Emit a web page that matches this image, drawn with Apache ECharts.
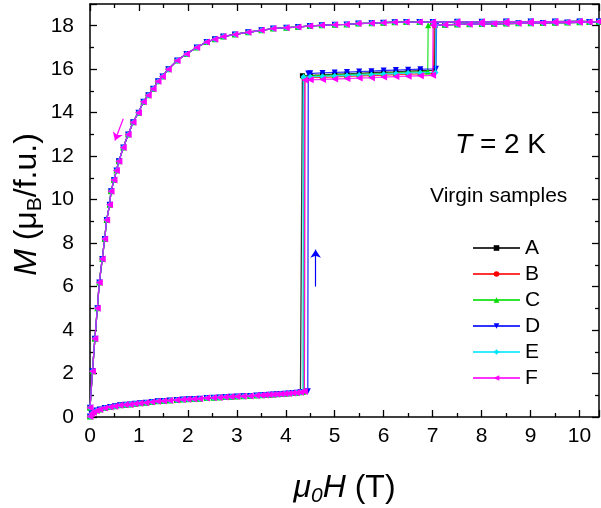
<!DOCTYPE html>
<html><head><meta charset="utf-8">
<script src="https://cdn.jsdelivr.net/npm/echarts@6/dist/echarts.min.js"></script>
<style>html,body{margin:0;padding:0;background:#fff}#c{width:601px;height:508px}</style>
</head><body><div id="c"></div>
<script>
// ---- data ----
const samples = ['A', 'B', 'C', 'D', 'E', 'F'];
const colors = ['#000000', '#ff0000', '#00dd00', '#0000ff', '#00e5ff', '#ff00ff'];
const symbols = ['rect', 'circle', 'triangle', 'triangle', 'diamond', 'triangle'];
const rotations = [0, 0, 0, 180, 0, 90];
const symbolSizes = [5, 5, 6, 6, 6, 7];

// virgin (up-sweep) branch below the first transition, common to all samples
const fieldUp = [0, 0.03, 0.07, 0.13, 0.2, 0.3, 0.41, 0.51, 0.61, 0.72, 0.82, 0.92, 1.02, 1.14, 1.26, 1.38, 1.5, 1.63, 1.77, 1.89, 2.0, 2.12, 2.24, 2.38, 2.52, 2.64, 2.76, 2.88, 3.0, 3.13, 3.27, 3.4, 3.5, 3.58, 3.66, 3.74, 3.82, 3.9, 3.98, 4.06, 4.14, 4.22, 4.3];
const momentUp = [0.02, 0.15, 0.22, 0.3, 0.35, 0.41, 0.46, 0.5, 0.54, 0.56, 0.58, 0.61, 0.63, 0.66, 0.69, 0.72, 0.74, 0.76, 0.78, 0.8, 0.82, 0.83, 0.84, 0.87, 0.89, 0.9, 0.92, 0.93, 0.94, 0.96, 0.97, 0.99, 1.0, 1.01, 1.02, 1.03, 1.05, 1.06, 1.07, 1.08, 1.1, 1.12, 1.14];

// first transition field, moment just before / after
const hc1 = [4.33, 4.38, 4.36, 4.45, 4.35, 4.38];
const mBefore1 = [1.16, 1.16, 1.16, 1.18, 1.16, 1.17];
const mAfter1 = [15.7, 15.6, 15.68, 15.8, 15.64, 15.5];

// intermediate plateau
const plateauField = [4.5, 4.75, 5.0, 5.25, 5.5, 5.75, 6.0, 6.25, 6.5, 6.75];
const plateauA = [15.72, 15.74, 15.77, 15.79, 15.81, 15.84, 15.86, 15.88, 15.91, 15.93];
const plateauB = [15.61, 15.63, 15.65, 15.67, 15.69, 15.71, 15.73, 15.75, 15.77, 15.79];
const plateauC = [15.69, 15.71, 15.73, 15.75, 15.77, 15.79, 15.81, 15.83, 15.86, 15.88];
const plateauD = [15.81, 15.83, 15.85, 15.87, 15.89, 15.91, 15.94, 15.96, 15.98, 16.0];
const plateauE = [15.65, 15.67, 15.69, 15.71, 15.73, 15.75, 15.78, 15.8, 15.82, 15.84];
const plateauF = [15.51, 15.53, 15.55, 15.57, 15.59, 15.61, 15.64, 15.66, 15.68, 15.7];
const plateaus = [plateauA, plateauB, plateauC, plateauD, plateauE, plateauF];

// second transition field, moment just before / after
const hc2 = [7.04, 7.02, 6.9, 7.07, 7.06, 7.0];
const mBefore2 = [15.95, 15.8, 15.9, 16.02, 15.85, 15.72];
const mAfter2 = [18.02, 18.02, 18.02, 18.03, 18.02, 18.02];

// saturated branch on the up-sweep
const fieldHigh = [7.25, 7.5, 7.75, 8.0, 8.25, 8.5, 8.75, 9.0, 9.25, 9.5, 9.75, 10.0, 10.2, 10.4];
const momentHigh = [18.04, 18.06, 18.07, 18.08, 18.09, 18.1, 18.11, 18.12, 18.13, 18.14, 18.15, 18.16, 18.17, 18.18];

// down-sweep branch
const fieldDown = [10.4, 10.0, 9.5, 9.0, 8.5, 8.0, 7.5, 7.0, 6.73, 6.46, 6.22, 5.99, 5.75, 5.48, 5.24, 5.0, 4.73, 4.49, 4.25, 4.01, 3.74, 3.5, 3.23, 2.96, 2.72, 2.55, 2.38, 2.18, 1.97, 1.78, 1.6, 1.48, 1.39, 1.29, 1.19, 1.09, 0.99, 0.88, 0.78, 0.68, 0.59, 0.54, 0.49, 0.43, 0.4, 0.34, 0.3, 0.25, 0.19, 0.15, 0.1, 0.05, 0];
const momentDown = [18.2, 18.2, 18.19, 18.19, 18.19, 18.18, 18.18, 18.17, 18.17, 18.17, 18.16, 18.14, 18.12, 18.1, 18.06, 18.05, 18.02, 17.99, 17.94, 17.91, 17.87, 17.79, 17.7, 17.6, 17.5, 17.38, 17.25, 17.0, 16.7, 16.4, 16.0, 15.67, 15.45, 15.1, 14.8, 14.5, 14.0, 13.56, 13.0, 12.4, 11.77, 11.34, 10.9, 10.38, 9.77, 9.06, 8.19, 7.27, 6.19, 5.0, 3.6, 2.1, 0.43];

const xTicks = [0, 1, 2, 3, 4, 5, 6, 7, 8, 9, 10];
const yTicks = [0, 2, 4, 6, 8, 10, 12, 14, 16, 18];

// arrows (data coordinates): [from, to]
const arrowDown = [[0.68, 13.72], [0.51, 12.72]];
const arrowUp = [[4.61, 6.0], [4.61, 7.7]];

// ---- build ----
const FONT = 'Liberation Sans, Arial, sans-serif';
function zip(a, b) { return a.map((v, i) => [v, b[i]]); }
function buildLoop(i) {
  const d = zip(fieldUp, momentUp);
  d.push([hc1[i], mBefore1[i]]);
  d.push([hc1[i] + 0.01, mAfter1[i]]);
  zip(plateauField, plateaus[i]).forEach(p => { if (p[0] > hc1[i]) d.push(p); });
  d.push([hc2[i], mBefore2[i]]);
  d.push([hc2[i] + 0.01, mAfter2[i]]);
  zip(fieldHigh, momentHigh).forEach(p => d.push(p));
  zip(fieldDown, momentDown).forEach(p => d.push(p));
  return d;
}

const series = samples.map((name, i) => {
  const s = {
    name, type: 'line', data: buildLoop(i),
    symbol: symbols[i], symbolRotate: rotations[i], symbolSize: symbolSizes[i],
    showSymbol: true,
    itemStyle: { color: colors[i] },
    lineStyle: { color: colors[i], width: 1.3, opacity: 0.8 },
    z: 2 + i
  };
  if (name === 'F' || name === 'D') {
    const arr = name === 'F' ? arrowDown : arrowUp;
    s.markLine = {
      silent: true, animation: false,
      symbol: ['none', 'arrow'], symbolSize: 8,
      label: { show: false },
      lineStyle: { color: colors[i], width: 1.2, type: 'solid', opacity: 1 },
      emphasis: { disabled: true },
      data: [[{ coord: arr[0] }, { coord: arr[1] }]]
    };
  }
  return s;
});

const axisCommon = {
  type: 'value',
  axisLine: { show: true, onZero: false, lineStyle: { color: '#000', width: 1.5 } },
  axisTick: { show: true, inside: true, length: 7, lineStyle: { color: '#000', width: 1.3 } },
  minorTick: { show: true, splitNumber: 2, length: 4, lineStyle: { color: '#000', width: 1.3 } },
  splitLine: { show: false }
};

const chart = echarts.init(document.getElementById('c'), null, { renderer: 'canvas' });
chart.setOption({
  animation: false,
  backgroundColor: '#fff',
  grid: { left: 90, right: 2, top: 4, bottom: 91, containLabel: false, outerBoundsMode: 'none' },
  xAxis: [
    Object.assign({}, axisCommon, {
      min: 0, max: 10.4, interval: 1, position: 'bottom',
      axisLabel: { color: '#000', fontSize: 21, fontFamily: FONT, margin: 9,
        formatter: v => xTicks.includes(v) ? String(v) : '' },
      name: '{it|μ}{isub|0}{it|H}{n| (T)}', nameLocation: 'middle', nameGap: 52,
      nameMoveOverlap: false,
      nameTextStyle: {
        color: '#000', fontFamily: FONT,
        rich: {
          it: { fontSize: 32, fontStyle: 'italic', fontFamily: FONT, color: '#000', lineHeight: 38 },
          isub: { fontSize: 21, fontStyle: 'italic', fontFamily: FONT, color: '#000', verticalAlign: 'bottom', lineHeight: 21 },
          n: { fontSize: 32, fontFamily: FONT, color: '#000', lineHeight: 38 }
        }
      }
    }),
    Object.assign({}, axisCommon, {
      min: 0, max: 10.4, interval: 1, position: 'top',
      axisLabel: { show: false }
    })
  ],
  yAxis: [
    Object.assign({}, axisCommon, {
      min: 0, max: 19, interval: 2, position: 'left',
      axisLabel: { color: '#000', fontSize: 21, fontFamily: FONT, margin: 16,
        formatter: v => yTicks.includes(v) ? String(v) : '' },
      name: '{it|M}{n| (μ}{sub|B}{n|/f.u.)}', nameLocation: 'middle', nameGap: 44,
      nameMoveOverlap: false,
      nameTextStyle: {
        color: '#000', fontFamily: FONT, padding: [0, 0, 0, 12],
        rich: {
          it: { fontSize: 32, fontStyle: 'italic', fontFamily: FONT, color: '#000', lineHeight: 38 },
          sub: { fontSize: 21, fontFamily: FONT, color: '#000', verticalAlign: 'bottom', lineHeight: 21 },
          n: { fontSize: 32, fontFamily: FONT, color: '#000', lineHeight: 38 }
        }
      }
    }),
    Object.assign({}, axisCommon, {
      min: 0, max: 19, interval: 2, position: 'right',
      axisLabel: { show: false }
    })
  ],
  legend: {
    data: samples, orient: 'vertical', left: 467, top: 232,
    itemWidth: 47, itemHeight: 7, itemGap: 4,
    textStyle: { color: '#000', fontSize: 21, fontFamily: FONT, lineHeight: 22 },
    selectedMode: false
  },
  graphic: [
    {
      type: 'text', left: 455, top: 131,
      style: {
        text: '{i|T} = 2 K', fill: '#000', font: '28px ' + FONT,
        rich: { i: { fontStyle: 'italic', fontSize: 28, fontFamily: FONT, fill: '#000' } }
      }
    },
    {
      type: 'text', left: 430, top: 186,
      style: { text: 'Virgin samples', fill: '#000', font: '21px ' + FONT }
    }
  ],
  series
});
</script></body></html>
